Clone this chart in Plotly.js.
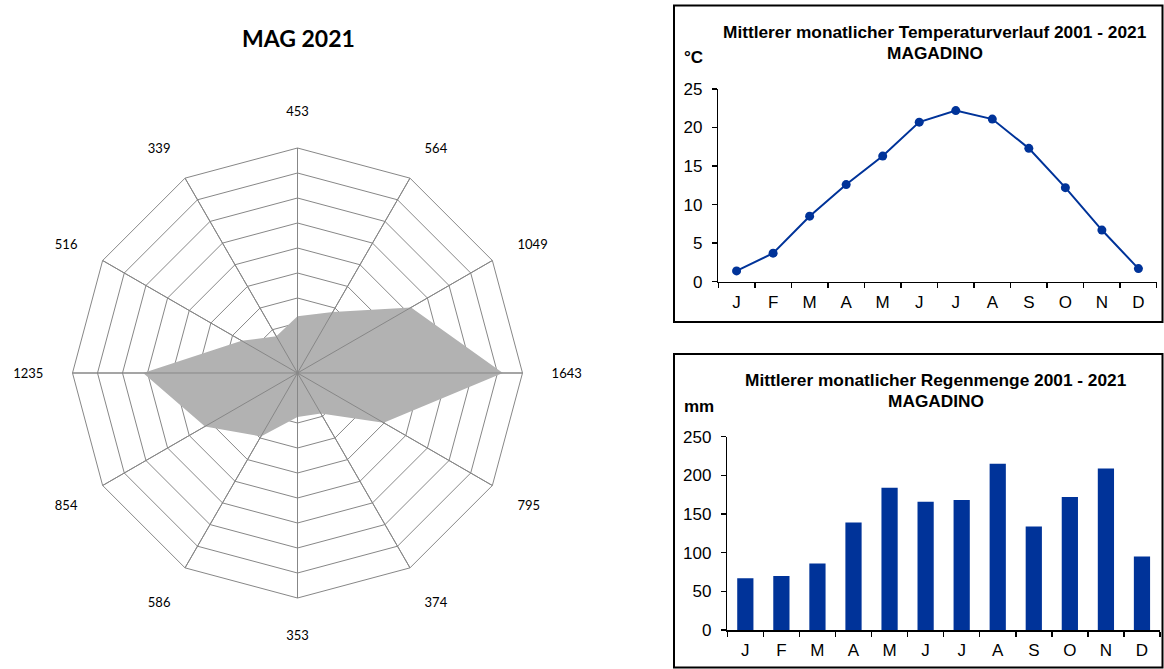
<!DOCTYPE html>
<html><head><meta charset="utf-8">
<script src="https://cdn.plot.ly/plotly-3.0.1.min.js"></script>
<style>html,body{margin:0;padding:0;background:#fff}#chart{width:1164px;height:669px}</style>
</head><body><div id="chart"></div>
<script>
// ---- data ----
const windDirections = ['N','NNO','NO','O','SO','SSO','S','SSW','SW','W','NW','NNW'];
const windCounts = [453, 564, 1049, 1643, 795, 374, 353, 586, 854, 1235, 516, 339];
const radialMax = 1800;
const radialStep = 200;

const monthIds = ['Jan','Feb','Mar','Apr','May','Jun','Jul','Aug','Sep','Oct','Nov','Dec'];
const monthLabels = ['J','F','M','A','M','J','J','A','S','O','N','D'];
const temperature = [1.4, 3.7, 8.5, 12.6, 16.3, 20.7, 22.2, 21.1, 17.3, 12.2, 6.7, 1.7];
const rainfall = [67, 70, 86, 139, 184, 166, 168, 215, 134, 172, 209, 95];

// ---- helpers ----
const W = 1164, H = 669;
const px = x => x / W;
const py = y => 1 - y / H;
const GRID = '#878787';
const BLUE = '#003399';

// spokes drawn above fill
const spokeR = [], spokeT = [];
windDirections.forEach(d => { spokeR.push(0, radialMax, null); spokeT.push(d, d, null); });

const traces = [
  { type: 'scatterpolar', r: windCounts, theta: windDirections, fill: 'toself',
    fillcolor: '#b2b2b2', mode: 'lines', line: { width: 0, color: 'rgba(0,0,0,0)' },
    hoverinfo: 'skip', subplot: 'polar' },
  { type: 'scatterpolar', r: spokeR, theta: spokeT, mode: 'lines',
    line: { width: 1, color: GRID }, hoverinfo: 'skip', subplot: 'polar' },
  { type: 'scatter', x: monthIds, y: temperature, mode: 'lines+markers', xaxis: 'x', yaxis: 'y',
    line: { color: BLUE, width: 2 }, marker: { color: BLUE, size: 9 } },
  { type: 'bar', x: monthIds, y: rainfall, xaxis: 'x2', yaxis: 'y2',
    marker: { color: BLUE, line: { width: 0 } } }
];

const tickFont = { family: 'Liberation Sans, Arial, sans-serif', size: 17, color: '#000' };
const xCommon = {
  type: 'category', tickvals: monthIds, ticktext: monthLabels, tickson: 'boundaries',
  range: [-0.5, monthIds.length - 0.5],
  ticks: 'outside', ticklen: 5, tickcolor: '#000', tickwidth: 1.5,
  showline: true, linecolor: '#000', linewidth: 1.5, showgrid: false, zeroline: false,
  tickfont: tickFont, fixedrange: true, ticklabelstandoff: 4
};
const yCommon = {
  ticks: 'outside', ticklen: 5, tickcolor: '#000', tickwidth: 1.5,
  showline: true, linecolor: '#000', linewidth: 1.5, showgrid: false, zeroline: false,
  tickfont: tickFont, fixedrange: true, ticklabelstandoff: 6
};

const titleFont = { family: 'Liberation Sans, Arial, sans-serif', size: 17.3, color: '#000' };
function ann(text, x, y, font, xanchor) {
  return { text, x: px(x), y: py(y), xref: 'paper', yref: 'paper', showarrow: false,
    xanchor: xanchor || 'center', yanchor: 'middle', font };
}

const layout = {
  width: W, height: H, margin: { l: 0, r: 0, t: 0, b: 0 },
  paper_bgcolor: '#fff', plot_bgcolor: '#fff', showlegend: false,
  font: { family: 'Liberation Sans, Arial, sans-serif', color: '#000' },
  bargap: 0.55,
  polar: {
    domain: { x: [px(72.5), px(522.5)], y: [py(598), py(148)] },
    gridshape: 'linear', bgcolor: '#fff',
    radialaxis: { range: [0, radialMax], dtick: radialStep, showticklabels: false, ticks: '',
      showline: false, gridcolor: GRID, gridwidth: 1 },
    angularaxis: { type: 'category', direction: 'clockwise', rotation: 90,
      tickvals: windDirections, ticktext: windCounts.map(String),
      ticks: 'outside', ticklen: 26, tickcolor: 'rgba(0,0,0,0)',
      showline: true, linecolor: GRID, linewidth: 1, gridcolor: GRID, gridwidth: 1,
      tickfont: { family: 'Lato, Open Sans, sans-serif', size: 13, color: '#000' } }
  },
  xaxis: Object.assign({}, xCommon, { domain: [px(718.3), px(1156.7)], anchor: 'y' }),
  yaxis: Object.assign({}, yCommon, { domain: [py(281.7), py(89)], anchor: 'x', range: [0, 25], dtick: 5 }),
  xaxis2: Object.assign({}, xCommon, { domain: [px(727.3), px(1160)], anchor: 'y2' }),
  yaxis2: Object.assign({}, yCommon, { domain: [py(630), py(436.7)], anchor: 'x2', range: [0, 250], dtick: 50 }),
  shapes: [
    { type: 'rect', xref: 'paper', yref: 'paper', x0: px(674), x1: px(1162.5), y0: py(322), y1: py(5.5),
      line: { color: '#000', width: 2 }, fillcolor: 'rgba(0,0,0,0)' },
    { type: 'rect', xref: 'paper', yref: 'paper', x0: px(674), x1: px(1162.5), y0: py(667.5), y1: py(354),
      line: { color: '#000', width: 2 }, fillcolor: 'rgba(0,0,0,0)' }
  ],
  annotations: [
    ann('<b>MAG 2021</b>', 298, 38, { family: 'Lato, Open Sans, sans-serif', size: 23, color: '#000' }),
    ann('<b>Mittlerer monatlicher Temperaturverlauf 2001 - 2021</b>', 935, 32, titleFont),
    ann('<b>MAGADINO</b>', 935, 53, titleFont),
    ann('<b>°C</b>', 682, 57, { family: 'Liberation Sans, Arial, sans-serif', size: 17, color: '#000' }, 'left'),
    ann('<b>Mittlerer monatlicher Regenmenge 2001 - 2021</b>', 936, 380, titleFont),
    ann('<b>MAGADINO</b>', 936, 401, titleFont),
    ann('<b>mm</b>', 682, 406, { family: 'Liberation Sans, Arial, sans-serif', size: 17, color: '#000' }, 'left')
  ]
};

Plotly.newPlot('chart', traces, layout, { staticPlot: true, displayModeBar: false });
</script>
</body></html>
